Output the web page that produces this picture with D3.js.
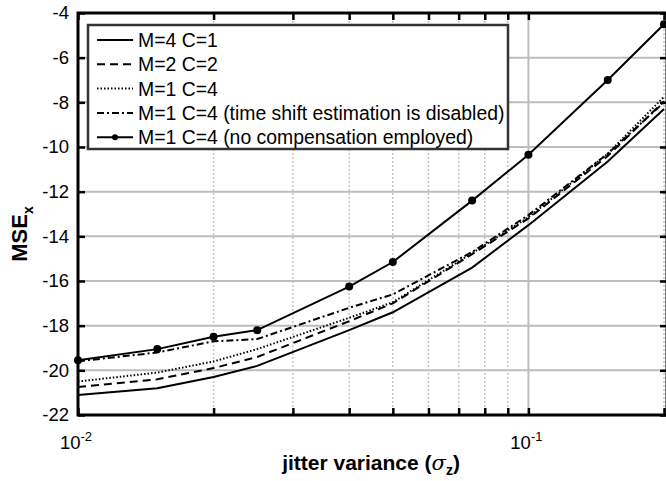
<!DOCTYPE html>
<html>
<head>
<meta charset="utf-8">
<script src="https://cdn.jsdelivr.net/npm/d3@7"></script>
<style>
  body { margin: 0; background: #fff; }
  text { font-family: "Liberation Sans", Arial, sans-serif; }
</style>
</head>
<body>
<svg id="chart" width="666" height="481"></svg>
<script>
var width = 666;
var height = 481;
var margin = { top: 13, bottom: 66, left: 78, right: 2 };

// jitter variance values (x) and MSE curves (dB)
var jitter = [0.01, 0.015, 0.02, 0.025, 0.04, 0.05, 0.075, 0.1, 0.15, 0.2];
var m4c1 = [-21.1, -20.8, -20.3, -19.8, -18.2, -17.4, -15.4, -13.5, -10.65, -8.3];
var m2c2 = [-20.75, -20.4, -19.9, -19.4, -17.8, -17.0, -14.8, -13.2, -10.4, -7.95];
var m1c4 = [-20.5, -20.1, -19.6, -19.05, -17.65, -16.95, -14.75, -13.15, -10.3, -7.75];
var m1c4NoShift = [-19.6, -19.2, -18.7, -18.6, -17.2, -16.6, -14.7, -13.05, -10.3, -8.0];
var m1c4NoComp = [-19.55, -19.05, -18.5, -18.2, -16.25, -15.15, -12.4, -10.35, -7.0, -4.5];

var seriesNames = [
  'M=4 C=1',
  'M=2 C=2',
  'M=1 C=4',
  'M=1 C=4 (time shift estimation is disabled)',
  'M=1 C=4 (no compensation employed)'
];
var yTicks = [-22, -20, -18, -16, -14, -12, -10, -8, -6, -4];
var xMajor = [0.01, 0.1];
var xMinor = [0.02, 0.03, 0.04, 0.05, 0.06, 0.07, 0.08, 0.09, 0.2];

var series = [
  { name: seriesNames[0], values: m4c1, dash: null, marker: false },
  { name: seriesNames[1], values: m2c2, dash: '8,5', marker: false },
  { name: seriesNames[2], values: m1c4, dash: '1.5,2', marker: false },
  { name: seriesNames[3], values: m1c4NoShift, dash: '7,3,2,3', marker: false },
  { name: seriesNames[4], values: m1c4NoComp, dash: null, marker: true }
];

var svg = d3.select('#chart');

// scales
var x = d3.scaleLog().domain([0.01, 0.2]).range([margin.left, 664]);
var y = d3.scaleLinear().domain([-22, -4]).range([415, margin.top]);
var right = 667; // axes box edge sits just past the picture

// grid lines
var grid = svg.append('g');
grid.selectAll('.hgrid').data(yTicks.slice(1, -1)).enter().append('line')
  .attr('x1', margin.left).attr('x2', right)
  .attr('y1', d => y(d)).attr('y2', d => y(d))
  .attr('stroke', '#bdbdbd').attr('stroke-width', 2);
grid.selectAll('.vminor').data(xMinor).enter().append('line')
  .attr('x1', d => x(d)).attr('x2', d => x(d))
  .attr('y1', y(-4)).attr('y2', y(-22))
  .attr('stroke', '#c4c4c4').attr('stroke-width', 1.5)
  .attr('stroke-dasharray', '2,2');
grid.append('line')
  .attr('x1', x(0.1)).attr('x2', x(0.1))
  .attr('y1', y(-4)).attr('y2', y(-22))
  .attr('stroke', '#bdbdbd').attr('stroke-width', 2);

// axes with inward ticks
var xAxis = d3.axisBottom(x).tickValues(xMajor.concat(xMinor)).tickSize(-7).tickFormat('');
var xAxisTop = d3.axisTop(x).tickValues(xMajor.concat(xMinor)).tickSize(-7).tickFormat('');
var yAxis = d3.axisLeft(y).tickValues(yTicks).tickSize(-7).tickPadding(9).tickFormat(d => String(d));
var yAxisRight = d3.axisRight(y).tickValues(yTicks).tickSize(-7).tickFormat('');

function styleAxis(g) {
  g.select('.domain').remove();
  g.selectAll('.tick line').attr('stroke', '#000').attr('stroke-width', 2.5);
}

svg.append('g').attr('transform', 'translate(0,' + y(-22) + ')').call(xAxis).call(styleAxis);
svg.append('g').attr('transform', 'translate(0,' + y(-4) + ')').call(xAxisTop).call(styleAxis);
svg.append('g').attr('transform', 'translate(' + right + ',0)').call(yAxisRight).call(styleAxis);
var gy = svg.append('g').attr('transform', 'translate(' + margin.left + ',0)').call(yAxis).call(styleAxis);
gy.selectAll('.tick text')
  .attr('font-family', '"Liberation Sans", Arial, sans-serif')
  .attr('font-size', 18.5).attr('fill', '#000');

// x tick labels 10^n
var xLab = svg.append('g');
xMajor.forEach(function (v) {
  var t = xLab.append('text')
    .attr('x', x(v) - 2).attr('y', 449)
    .attr('text-anchor', 'middle')
    .attr('font-size', 18.5);
  t.append('tspan').text('10');
  t.append('tspan').attr('dy', -8).attr('font-size', 13).text(String(Math.round(Math.log10(v))));
});

// frame
svg.append('rect')
  .attr('x', margin.left).attr('y', y(-4))
  .attr('width', right - margin.left).attr('height', y(-22) - y(-4))
  .attr('fill', 'none').attr('stroke', '#000').attr('stroke-width', 3);

// data lines
var line = d3.line().x((d, i) => x(jitter[i])).y(d => y(d));
var plot = svg.append('g');
series.forEach(function (s) {
  plot.append('path')
    .datum(s.values)
    .attr('d', line)
    .attr('fill', 'none')
    .attr('stroke', '#000')
    .attr('stroke-width', 2)
    .attr('stroke-dasharray', s.dash);
  if (s.marker) {
    plot.selectAll(null).data(s.values).enter().append('circle')
      .attr('cx', (d, i) => x(jitter[i])).attr('cy', d => y(d))
      .attr('r', 4).attr('fill', '#000');
  }
});

// legend
var legend = svg.append('g');
legend.append('rect')
  .attr('x', 88).attr('y', 25).attr('width', 420).attr('height', 124)
  .attr('fill', '#fff').attr('stroke', '#333').attr('stroke-width', 2.5);
series.forEach(function (s, i) {
  var ly = 40 + i * 24.3;
  legend.append('line')
    .attr('x1', 97).attr('x2', 133).attr('y1', ly).attr('y2', ly)
    .attr('stroke', '#000').attr('stroke-width', 2)
    .attr('stroke-dasharray', s.dash);
  if (s.marker) {
    legend.append('circle').attr('cx', 115).attr('cy', ly).attr('r', 3).attr('fill', '#000');
  }
  legend.append('text')
    .attr('x', 138).attr('y', ly + 7)
    .attr('font-size', 19.4).attr('fill', '#000')
    .text(s.name);
});

// axis titles
var xt = svg.append('text')
  .attr('x', 371).attr('y', 470)
  .attr('text-anchor', 'middle')
  .attr('font-size', 21).attr('font-weight', 'bold');
xt.append('tspan').text('jitter variance (');
xt.append('tspan').attr('font-style', 'italic').attr('font-weight', 'normal').attr('font-family', '"DejaVu Serif", serif').text('σ');
xt.append('tspan').attr('dy', 5).attr('font-size', 14).text('z');
xt.append('tspan').attr('dy', -5).text(')');

var yt = svg.append('text')
  .attr('transform', 'translate(27,234) rotate(-90)')
  .attr('text-anchor', 'middle')
  .attr('font-size', 22).attr('font-weight', 'bold');
yt.append('tspan').text('MSE');
yt.append('tspan').attr('dy', 6).attr('font-size', 14).text('x');
</script>
</body>
</html>
